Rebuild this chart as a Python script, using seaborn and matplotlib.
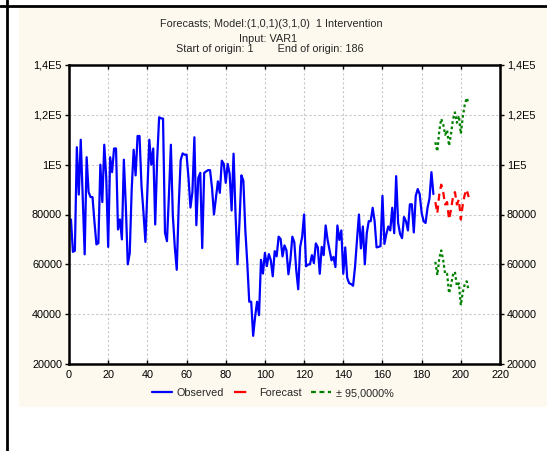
import numpy as np
import pandas as pd
import matplotlib
matplotlib.use("Agg")
import matplotlib.pyplot as plt
from matplotlib.patches import Rectangle
from matplotlib.lines import Line2D
import seaborn as sns

# ---------------- data (values in thousands) ----------------
observed_k = [
    78, 65, 65.5, 107, 88, 110, 87, 64, 103, 89,
    87, 87, 77, 68, 68.5, 100, 85, 108, 95, 67,
    103, 97, 106.5, 106.5, 74, 78, 70, 102, 83.5, 60,
    64.5, 90, 106, 95.7, 111.5, 111.5, 91.6, 81, 69, 89,
    110, 100, 106.5, 76, 102, 119, 118.6, 118.5, 72.7, 69.3,
    87.6, 108, 79.5, 67, 57.8, 83.5, 101.8, 104.5, 104, 104,
    94.7, 82.8, 89, 111, 75.7, 94.7, 96.7, 66.5, 96.7, 97.3,
    97.8, 97.8, 90.7, 80, 86.7, 93.3, 88.7, 101.6, 100.3, 92.7,
    100.3, 96.3, 81.6, 104.4, 80.3, 60, 76.6, 95.7, 93.6, 73.8,
    60.5, 45, 45, 31.3, 39, 45, 39.6, 61.8, 56.3, 64.6,
    59.3, 64.1, 61.7, 55.2, 65.3, 63.2, 71.1, 70.2, 63.2, 67.6,
    65.6, 56, 61.7, 71.1, 68.9, 57.6, 50, 67, 71, 80,
    59.2, 59.9, 60, 63.7, 60.5, 68.4, 66.8, 56.2, 67, 63.7,
    75.6, 69.8, 65.7, 61.6, 63, 58.9, 75.6, 69.8, 73.6, 56.2,
    66.8, 54.6, 52.4, 52.1, 51.4, 58.9, 69.8, 80, 66.4, 75.2,
    60, 72.5, 77.3, 77.3, 82.7, 77.3, 66.8, 67, 67.3, 87.5,
    68.2, 72.2, 75.2, 73.6, 82.7, 72.5, 95.4, 76.6, 72.2, 70.5,
    79, 77.3, 73.6, 84.1, 84.1, 72.8, 87.5, 90.2, 88.2, 80.7,
    77.3, 76.6, 82.7, 86.4, 97, 88.2,
]
obs_start = 1

forecast_k = [85, 80.5, 88, 92, 89, 84, 85, 78, 82, 87,
              89, 84, 86, 78, 84, 88, 90, 87]
upper_k = [109, 105.3, 113.6, 118.4, 116.2, 112, 113.8, 107.6, 112.4, 118.2,
           121, 116.8, 119.6, 112.4, 119.2, 124, 126.8, 124.6]
lower_k = [61, 55.7, 62.4, 65.6, 61.8, 56, 56.2, 48.4, 51.6, 55.8,
           57, 51.2, 52.4, 43.6, 48.8, 52, 53.2, 49.4]
fc_start = 187

x_ticks = [0, 20, 40, 60, 80, 100, 120, 140, 160, 180, 200, 220]
y_ticks = [20000, 40000, 60000, 80000, 100000, 120000, 140000]
y_tick_labels = ["20000", "40000", "60000", "80000", "1E5", "1,2E5", "1,4E5"]

title_lines = ["Forecasts; Model:(1,0,1)(3,1,0)  1 Intervention",
               "Input: VAR1",
               "Start of origin: 1        End of origin: 186"]
legend_labels = ["Observed", "Forecast", "\u00b1 95,0000%"]

# ---------------- frames ----------------
obs = pd.DataFrame({"t": np.arange(obs_start, obs_start + len(observed_k)),
                    "v": np.array(observed_k) * 1000})
tf = np.arange(fc_start, fc_start + len(forecast_k))
fc = pd.DataFrame({"t": tf, "v": np.array(forecast_k) * 1000})
up = pd.DataFrame({"t": tf, "v": np.array(upper_k) * 1000})
lo = pd.DataFrame({"t": tf, "v": np.array(lower_k) * 1000})

sns.set_style("white")
plt.rcParams['font.family'] = ['Liberation Sans', 'DejaVu Sans']

W, H = 547, 451
fig = plt.figure(figsize=(W / 100, H / 100), dpi=100, facecolor="white")

# beige panel and black frame lines
fig.patches.append(Rectangle((19 / W, 1 - 407 / H), (W - 19) / W, (407 - 8) / H,
                             transform=fig.transFigure, facecolor="#FDF9EE",
                             edgecolor="none", zorder=-10))
fig.add_artist(Line2D([0, 1], [1 - 6 / H, 1 - 6 / H], transform=fig.transFigure,
                      color="black", lw=2))
fig.add_artist(Line2D([7 / W, 7 / W], [0, 1], transform=fig.transFigure,
                      color="black", lw=2))

ax = fig.add_axes([69 / W, 1 - 364 / H, (500 - 69) / W, (364 - 65) / H])
ax.set_zorder(5)
ax.set_facecolor("white")

sns.lineplot(data=obs, x="t", y="v", ax=ax, color="#0000FF", lw=1.6,
             label=legend_labels[0], legend=False)
sns.lineplot(data=fc, x="t", y="v", ax=ax, color="#FF0000", lw=1.6,
             label=legend_labels[1], legend=False)
ax.lines[-1].set_linestyle((0, (3.2, 2.2)))
sns.lineplot(data=up, x="t", y="v", ax=ax, color="#008000", lw=1.6,
             label=legend_labels[2], legend=False)
ax.lines[-1].set_linestyle((0, (1.2, 1.2)))
sns.lineplot(data=lo, x="t", y="v", ax=ax, color="#008000", lw=1.6,
             legend=False)
ax.lines[-1].set_linestyle((0, (1.2, 1.2)))

ax.set_xlim(0, 220)
ax.set_ylim(20000, 140000)
ax.set_xticks(x_ticks)
ax.set_yticks(y_ticks)
ax.set_yticklabels(y_tick_labels)
ax.set_xlabel("")
ax.set_ylabel("")
ax.grid(True, color="#C8C8C8", linestyle=(0, (2, 2)), lw=0.8)
for s in ax.spines.values():
    s.set_visible(True)
    s.set_color("black")
    s.set_linewidth(1.8)
ax.tick_params(axis="both", labelsize=7.8, colors="black", length=3, width=1,
               pad=2)
ax.tick_params(axis="y", left=True, right=True, labelleft=True,
               labelright=True, direction="out")
ax.tick_params(axis="x", bottom=True, top=True, direction="in", pad=4)

# titles
fig.text(271 / W, 1 - 24 / H, title_lines[0], ha="center", va="center",
         fontsize=7.8)
fig.text(268 / W, 1 - 39 / H, title_lines[1], ha="center", va="center",
         fontsize=7.8)
fig.text(270 / W, 1 - 49 / H, title_lines[2], ha="center", va="center",
         fontsize=7.8)

# legend with handles like the reference (short red dash)
h_obs = Line2D([], [], color="#0000FF", lw=1.6)
h_fc = Line2D([], [], color="#FF0000", lw=1.6, linestyle=(0.5, (6, 20)))
h_ci = Line2D([], [], color="#008000", lw=1.6, linestyle=(0, (2.2, 1.6)))
leg = fig.legend([h_obs, h_fc, h_ci], legend_labels, loc="center", ncol=3,
                 bbox_to_anchor=(273 / W, 1 - 393 / H), frameon=False,
                 fontsize=7.8, handlelength=1.8, handletextpad=0.5,
                 columnspacing=0.9)

fig.savefig("out.png", dpi=100, facecolor="white")
